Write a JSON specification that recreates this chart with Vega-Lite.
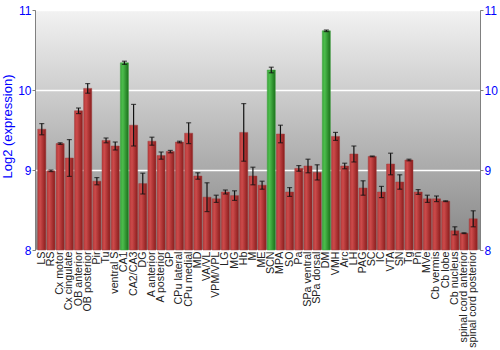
{
  "$schema": "https://vega.github.io/schema/vega-lite/v6.json",
  "width": 445,
  "height": 240,
  "autosize": {"type": "none"},
  "padding": {"left": 35, "top": 10, "right": 20, "bottom": 100},
  "background": "white",
  "config": {
    "view": {
      "stroke": "#808080",
      "strokeWidth": 1,
      "fill": {
        "gradient": "linear", "x1": 0, "y1": 0, "x2": 0, "y2": 1,
        "stops": [{"offset": 0, "color": "#f2f2f2"}, {"offset": 1, "color": "#858585"}]
      }
    },
    "axis": {"domainColor": "#808080", "tickColor": "#808080"}
  },
  "data": {"values": [
    {"region": "LS", "v": 9.51, "e": 0.07, "hl": 0},
    {"region": "RS", "v": 8.99, "e": 0.01, "hl": 0},
    {"region": "Cx motor", "v": 9.33, "e": 0.01, "hl": 0},
    {"region": "Cx cingulate", "v": 9.15, "e": 0.23, "hl": 0},
    {"region": "OB anterior", "v": 9.74, "e": 0.035, "hl": 0},
    {"region": "OB posterior", "v": 10.02, "e": 0.06, "hl": 0},
    {"region": "Pir", "v": 8.86, "e": 0.045, "hl": 0},
    {"region": "Tu", "v": 9.37, "e": 0.03, "hl": 0},
    {"region": "ventral S", "v": 9.30, "e": 0.05, "hl": 0},
    {"region": "CA1", "v": 10.34, "e": 0.02, "hl": 1},
    {"region": "CA2/CA3", "v": 9.56, "e": 0.26, "hl": 0},
    {"region": "DG", "v": 8.83, "e": 0.13, "hl": 0},
    {"region": "A anterior", "v": 9.36, "e": 0.05, "hl": 0},
    {"region": "A posterior", "v": 9.18, "e": 0.045, "hl": 0},
    {"region": "GP", "v": 9.23, "e": 0.015, "hl": 0},
    {"region": "CPu lateral", "v": 9.35, "e": 0.01, "hl": 0},
    {"region": "CPu medial", "v": 9.46, "e": 0.13, "hl": 0},
    {"region": "MD", "v": 8.925, "e": 0.04, "hl": 0},
    {"region": "VA/VL", "v": 8.66, "e": 0.18, "hl": 0},
    {"region": "VPM/VPL", "v": 8.64, "e": 0.045, "hl": 0},
    {"region": "LG", "v": 8.725, "e": 0.025, "hl": 0},
    {"region": "MG", "v": 8.68, "e": 0.06, "hl": 0},
    {"region": "Hb", "v": 9.47, "e": 0.36, "hl": 0},
    {"region": "M", "v": 8.925, "e": 0.11, "hl": 0},
    {"region": "ME", "v": 8.81, "e": 0.05, "hl": 0},
    {"region": "SCN", "v": 10.25, "e": 0.035, "hl": 1},
    {"region": "MPA", "v": 9.45, "e": 0.11, "hl": 0},
    {"region": "SO", "v": 8.725, "e": 0.055, "hl": 0},
    {"region": "Pa", "v": 9.02, "e": 0.035, "hl": 0},
    {"region": "SPa ventral", "v": 9.05, "e": 0.085, "hl": 0},
    {"region": "SPa dorsal", "v": 8.97, "e": 0.095, "hl": 0},
    {"region": "DM", "v": 10.74, "e": 0.01, "hl": 1},
    {"region": "VMH", "v": 9.42, "e": 0.05, "hl": 0},
    {"region": "Arc", "v": 9.05, "e": 0.035, "hl": 0},
    {"region": "LH", "v": 9.20, "e": 0.1, "hl": 0},
    {"region": "PAG", "v": 8.775, "e": 0.09, "hl": 0},
    {"region": "SC", "v": 9.17, "e": 0.005, "hl": 0},
    {"region": "IC", "v": 8.725, "e": 0.07, "hl": 0},
    {"region": "VTA", "v": 9.075, "e": 0.135, "hl": 0},
    {"region": "SN", "v": 8.85, "e": 0.09, "hl": 0},
    {"region": "Tg", "v": 9.125, "e": 0.01, "hl": 0},
    {"region": "Pn", "v": 8.725, "e": 0.03, "hl": 0},
    {"region": "MVe", "v": 8.64, "e": 0.045, "hl": 0},
    {"region": "Cb vermis", "v": 8.64, "e": 0.035, "hl": 0},
    {"region": "Cb lobe", "v": 8.61, "e": 0.005, "hl": 0},
    {"region": "Cb nucleus", "v": 8.24, "e": 0.05, "hl": 0},
    {"region": "spinal cord anterior", "v": 8.21, "e": 0.005, "hl": 0},
    {"region": "spinal cord posterior", "v": 8.39, "e": 0.1, "hl": 0}
  ]},
  "encoding": {
    "x": {
      "field": "region", "type": "nominal",
      "sort": ["LS", "RS", "Cx motor", "Cx cingulate", "OB anterior", "OB posterior", "Pir", "Tu", "ventral S", "CA1", "CA2/CA3", "DG", "A anterior", "A posterior", "GP", "CPu lateral", "CPu medial", "MD", "VA/VL", "VPM/VPL", "LG", "MG", "Hb", "M", "ME", "SCN", "MPA", "SO", "Pa", "SPa ventral", "SPa dorsal", "DM", "VMH", "Arc", "LH", "PAG", "SC", "IC", "VTA", "SN", "Tg", "Pn", "MVe", "Cb vermis", "Cb lobe", "Cb nucleus", "spinal cord anterior", "spinal cord posterior"],
      "scale": {"paddingInner": 0.12, "paddingOuter": 0.3},
      "axis": {
        "title": null, "labelAngle": -90, "labelFont": "Liberation Sans", "labelFontSize": 10.7,
        "labelColor": "#222222", "ticks": false, "domain": false, "labelPadding": 1
      }
    }
  },
  "layer": [
    {
      "transform": [{"filter": "datum.hl == 0"}],
      "mark": {
        "type": "bar", "stroke": "#a04040", "strokeWidth": 0.5,
        "fill": {
          "gradient": "linear", "x1": 0, "y1": 0, "x2": 1, "y2": 0,
          "stops": [{"offset": 0, "color": "#b83a3a"}, {"offset": 0.3, "color": "#cc4a4a"}, {"offset": 1, "color": "#8a1c1c"}]
        }
      },
      "encoding": {
        "y": {
          "field": "v", "type": "quantitative",
          "scale": {"domain": [8, 11], "zero": false, "nice": false},
          "axis": {
            "title": "Log2 (expression)", "titleColor": "#0000ff", "titleFont": "Liberation Sans",
            "titleFontSize": 13, "titleFontWeight": "normal", "titlePadding": 3, "titleY": 116,
            "labelColor": "#0000ff", "labelFont": "Liberation Sans", "labelFontSize": 12, "labelPadding": 1,
            "values": [8, 9, 10, 11], "grid": true, "gridColor": "#ffffff", "gridWidth": 1.5, "tickSize": 3
          }
        },
        "y2": {"datum": 8}
      }
    },
    {
      "transform": [{"filter": "datum.hl == 1"}],
      "mark": {
        "type": "bar", "stroke": "#40a040", "strokeWidth": 0.5,
        "fill": {
          "gradient": "linear", "x1": 0, "y1": 0, "x2": 1, "y2": 0,
          "stops": [{"offset": 0, "color": "#3aa83a"}, {"offset": 0.3, "color": "#4cbc4c"}, {"offset": 1, "color": "#1a701a"}]
        }
      },
      "encoding": {
        "y": {"field": "v", "type": "quantitative", "axis": null},
        "y2": {"datum": 8}
      }
    },
    {
      "mark": {"type": "errorbar", "ticks": {"size": 5, "color": "#111111"}, "rule": {"color": "#111111"}, "thickness": 1.2},
      "encoding": {
        "y": {"field": "v", "type": "quantitative", "axis": null},
        "yError": {"field": "e"}
      }
    },
    {
      "mark": {"type": "rule", "opacity": 0},
      "encoding": {
        "y": {
          "field": "v", "type": "quantitative",
          "axis": {
            "orient": "right", "title": null, "labelColor": "#0000ff", "labelFont": "Liberation Sans",
            "labelFontSize": 12, "labelPadding": 1, "values": [8, 9, 10, 11], "grid": false, "tickSize": 3
          }
        }
      }
    }
  ],
  "resolve": {"axis": {"y": "independent"}}
}
